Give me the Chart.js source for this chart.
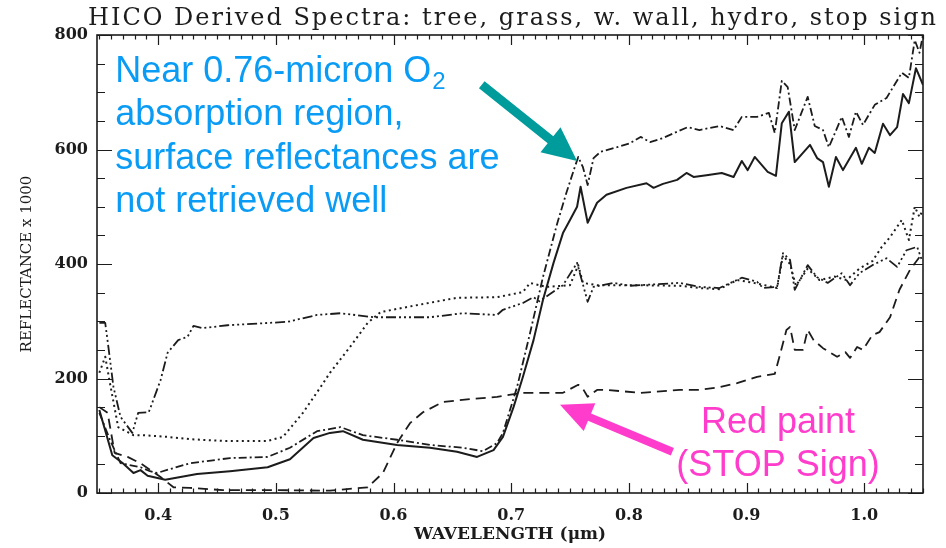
<!DOCTYPE html>
<html><head><meta charset="utf-8">
<script src="https://cdn.jsdelivr.net/npm/chart.js@4/dist/chart.umd.min.js"></script>
<style>html,body{margin:0;padding:0;background:#fff;}#wrap{width:946px;height:548px;}</style>
</head><body><div id="wrap"><canvas id="c" width="946" height="548"></canvas></div>
<script>
// ---- data (wavelength in microns, reflectance x 1000) ----
const treeWl = [0.350,0.361,0.370,0.379,0.385,0.391,0.406,0.433,0.461,0.493,0.512,0.532,0.546,0.557,0.574,0.603,0.631,0.654,0.671,0.685,0.693,0.702,0.710,0.719,0.727,0.736,0.744,0.750,0.756,0.759,0.765,0.773,0.781,0.798,0.815,0.821,0.829,0.841,0.849,0.855,0.866,0.879,0.889,0.896,0.901,0.907,0.918,0.925,0.930,0.936,0.941,0.954,0.960,0.965,0.970,0.976,0.982,0.993,0.998,1.004,1.009,1.016,1.022,1.028,1.033,1.038,1.044,1.050];
const treeRefl = [145,66,52,35,40,30,23,33,38,45,59,96,105,108,93,84,79,72,63,75,98,150,203,267,337,402,454,477,500,535,472,507,521,533,541,533,540,547,559,552,555,559,552,580,564,587,561,554,646,666,578,608,585,578,535,587,564,603,575,603,594,645,625,639,697,681,742,713];

const grassWl = [0.350,0.359,0.368,0.385,0.393,0.399,0.427,0.461,0.493,0.512,0.535,0.555,0.574,0.603,0.631,0.659,0.676,0.688,0.693,0.705,0.716,0.727,0.739,0.747,0.754,0.757,0.761,0.765,0.770,0.776,0.790,0.801,0.810,0.818,0.829,0.841,0.850,0.860,0.877,0.889,0.896,0.909,0.919,0.924,0.930,0.935,0.941,0.952,0.958,0.965,0.970,0.981,0.987,0.993,0.999,1.009,1.019,1.032,1.038,1.043,1.047,1.050];
const grassRefl = [140,93,52,45,38,35,52,61,63,79,108,115,101,93,84,79,73,87,105,185,279,377,470,525,569,587,569,538,585,596,604,611,622,613,620,631,639,634,641,634,657,657,664,629,720,709,634,692,641,634,604,657,622,666,643,678,690,734,725,791,769,800];

const wallWl = [0.350,0.355,0.359,0.366,0.379,0.387,0.408,0.427,0.455,0.493,0.506,0.523,0.538,0.546,0.563,0.578,0.589,0.617,0.654,0.688,0.710,0.716,0.730,0.750,0.757,0.761,0.773,0.801,0.843,0.860,0.877,0.892,0.909,0.926,0.931,0.937,0.942,0.952,0.962,0.975,0.985,0.996,1.007,1.015,1.022,1.032,1.038,1.043,1.047,1.050];
const wallRefl = [210,238,192,115,101,101,98,94,91,91,98,140,185,210,255,297,316,327,341,342,351,367,360,363,398,367,363,363,362,358,356,372,366,358,415,400,362,392,372,378,372,392,405,430,447,477,442,500,482,495];

const hydroWl = [0.350,0.355,0.358,0.362,0.368,0.378,0.383,0.392,0.402,0.408,0.417,0.425,0.430,0.438,0.459,0.493,0.510,0.535,0.555,0.583,0.631,0.659,0.688,0.693,0.710,0.719,0.724,0.744,0.756,0.765,0.770,0.787,0.801,0.843,0.860,0.877,0.896,0.909,0.914,0.926,0.931,0.937,0.941,0.952,0.960,0.969,0.981,0.988,0.996,1.007,1.019,1.028,1.036,1.045,1.049];
const hydroRefl = [297,297,250,185,133,105,140,141,197,245,267,273,292,288,293,297,299,311,314,307,307,314,311,320,332,342,335,363,402,334,360,367,362,367,360,358,376,369,358,360,419,407,355,398,377,367,384,363,384,398,410,395,424,430,407];

const stopWl = [0.350,0.357,0.363,0.374,0.385,0.402,0.413,0.427,0.455,0.500,0.546,0.578,0.591,0.603,0.614,0.625,0.642,0.665,0.688,0.710,0.744,0.757,0.761,0.765,0.773,0.781,0.810,0.843,0.860,0.877,0.892,0.909,0.924,0.928,0.934,0.937,0.941,0.948,0.952,0.957,0.965,0.977,0.984,0.988,0.994,0.999,1.007,1.013,1.022,1.030,1.039,1.047,1.050];
const stopRefl = [150,140,70,63,52,28,10,9,5,5,4,10,35,87,122,141,159,164,168,175,175,189,182,168,180,180,175,180,180,185,192,203,208,238,285,290,250,250,285,267,253,238,246,236,255,250,276,281,307,355,390,412,420];

const xTicks = [0.4,0.5,0.6,0.7,0.8,0.9,1.0];
const yTicks = [0,200,400,600,800];

const titleText = 'HICO Derived Spectra: tree, grass, w. wall, hydro, stop sign';
const xTitle = 'WAVELENGTH (\u03bcm)';
const yTitle = 'REFLECTANCE x 1000';
const blueNote = ['Near 0.76-micron O', 'absorption region,', 'surface reflectances are', 'not retrieved well'];
const blueSub = '2';
const pinkNote = ['Red paint', '(STOP Sign)'];

// annotation anchors in data units
const blueAnchor = {x: 0.3635, y: 718};
const pinkAnchor = {x: 0.9268, y: 105};
const tealArrow = {x1: 0.675, y1: 713, x2: 0.756, y2: 580};
const pinkArrow = {x1: 0.837, y1: 72, x2: 0.7415, y2: 154};

const pts = (wl, r) => wl.map((w, i) => ({x: w, y: r[i]}));
const INK = '#1c1c1c';
const serif = '"DejaVu Serif", serif';

const frameTicks = {
  id: 'frameTicks',
  afterDatasetsDraw(chart) {
    const {ctx, chartArea: {left, right, top, bottom}, scales: {x, y}} = chart;
    ctx.save();
    ctx.strokeStyle = INK;
    ctx.lineWidth = 1.2;
    ctx.beginPath();
    for (let i = 0; i <= 100; i++) {
      const v = Math.round((0.30 + i * 0.01) * 100) / 100;
      if (v < x.min - 1e-9 || v > x.max + 1e-9) continue;
      const px = Math.round(x.getPixelForValue(v)) + 0.5;
      const major = Math.abs(v * 10 - Math.round(v * 10)) < 1e-6;
      const len = major ? 10 : 4.5;
      ctx.moveTo(px, bottom); ctx.lineTo(px, bottom - len);
      ctx.moveTo(px, top); ctx.lineTo(px, top + len);
    }
    for (let v = 0; v <= 800; v += 50) {
      const py = Math.round(y.getPixelForValue(v)) + 0.5;
      const major = v % 200 === 0;
      const len = major ? 15 : 8;
      ctx.moveTo(left, py); ctx.lineTo(left + len, py);
      ctx.moveTo(right, py); ctx.lineTo(right - len, py);
    }
    ctx.stroke();
    ctx.lineWidth = 1.6;
    ctx.strokeRect(left, top, right - left, bottom - top);
    ctx.restore();
  }
};

function drawArrow(ctx, x1, y1, x2, y2, shaft, headLen, headW, color) {
  const dx = x2 - x1, dy = y2 - y1, L = Math.hypot(dx, dy);
  const ux = dx / L, uy = dy / L, nx = -uy, ny = ux;
  const bx = x2 - ux * headLen, by = y2 - uy * headLen;
  ctx.save();
  ctx.fillStyle = color;
  ctx.beginPath();
  ctx.moveTo(x1 + nx * shaft / 2, y1 + ny * shaft / 2);
  ctx.lineTo(bx + nx * shaft / 2, by + ny * shaft / 2);
  ctx.lineTo(bx + nx * headW / 2, by + ny * headW / 2);
  ctx.lineTo(x2, y2);
  ctx.lineTo(bx - nx * headW / 2, by - ny * headW / 2);
  ctx.lineTo(bx - nx * shaft / 2, by - ny * shaft / 2);
  ctx.lineTo(x1 - nx * shaft / 2, y1 - ny * shaft / 2);
  ctx.closePath();
  ctx.fill();
  ctx.restore();
}

const notes = {
  id: 'notes',
  afterDraw(chart) {
    const {ctx, chartArea: {left}, scales: {x, y}} = chart;
    ctx.save();
    // title
    ctx.font = '24px ' + serif;
    ctx.fillStyle = INK;
    ctx.textBaseline = 'alphabetic';
    ctx.textAlign = 'left';
    if ('letterSpacing' in ctx) ctx.letterSpacing = '2px';
    ctx.fillText(titleText, left - 9, 25);
    if ('letterSpacing' in ctx) ctx.letterSpacing = '0px';

    // blue note
    const sans = '"Liberation Sans", Arial, sans-serif';
    ctx.font = '36px ' + sans;
    ctx.fillStyle = '#0a9cf5';
    const bx = x.getPixelForValue(blueAnchor.x), by = y.getPixelForValue(blueAnchor.y);
    blueNote.forEach((t, i) => ctx.fillText(t, bx, by + i * 43.5));
    const w0 = ctx.measureText(blueNote[0]).width;
    ctx.font = '24px ' + sans;
    ctx.fillText(blueSub, bx + w0 + 1, by + 7);

    // pink note
    ctx.font = '36px ' + sans;
    ctx.fillStyle = '#ff3ccb';
    ctx.textAlign = 'center';
    const px = x.getPixelForValue(pinkAnchor.x), py = y.getPixelForValue(pinkAnchor.y);
    pinkNote.forEach((t, i) => ctx.fillText(t, px, py + i * 43));
    ctx.restore();

    drawArrow(ctx, x.getPixelForValue(tealArrow.x1), y.getPixelForValue(tealArrow.y1),
      x.getPixelForValue(tealArrow.x2), y.getPixelForValue(tealArrow.y2), 9, 34, 32, '#009c9c');
    drawArrow(ctx, x.getPixelForValue(pinkArrow.x1), y.getPixelForValue(pinkArrow.y1),
      x.getPixelForValue(pinkArrow.x2), y.getPixelForValue(pinkArrow.y2), 8, 32, 30, '#ff3ccb');
  }
};

const mk = (label, wl, r, dash, w) => ({
  label, data: pts(wl, r), borderColor: INK, borderWidth: w, borderDash: dash,
  pointRadius: 0, tension: 0, fill: false, borderCapStyle: 'butt', borderJoinStyle: 'round'
});

new Chart(document.getElementById('c'), {
  type: 'line',
  data: {
    datasets: [
      mk('tree', treeWl, treeRefl, [], 2),
      mk('grass', grassWl, grassRefl, [8, 3, 2, 3], 1.8),
      mk('w. wall', wallWl, wallRefl, [2, 3.5], 2),
      mk('hydro', hydroWl, hydroRefl, [10, 3, 2, 3, 2, 3, 2, 3], 1.8),
      mk('stop sign', stopWl, stopRefl, [10, 6], 1.8)
    ]
  },
  options: {
    responsive: false,
    animation: false,
    devicePixelRatio: 1,
    layout: {padding: {top: 35, right: 23, left: 0, bottom: 0}},
    plugins: {legend: {display: false}, title: {display: false}, tooltip: {enabled: false}},
    scales: {
      x: {
        type: 'linear', min: 0.348, max: 1.05,
        afterBuildTicks: s => { s.ticks = xTicks.map(v => ({value: v})); },
        afterFit: s => { s.height = 55; },
        grid: {display: false, drawTicks: false},
        border: {display: false},
        ticks: {callback: v => Number(v).toFixed(1), color: INK, padding: 13, maxRotation: 0, autoSkip: false,
          font: {family: serif, size: 16, weight: 'bold'}},
        title: {display: true, text: xTitle, color: INK, font: {family: serif, size: 17, weight: 'bold'},
          padding: {top: 0, bottom: 3}}
      },
      y: {
        min: 0, max: 800,
        afterBuildTicks: s => { s.ticks = yTicks.map(v => ({value: v})); },
        afterFit: s => { s.width = 97; },
        grid: {display: false, drawTicks: false},
        border: {display: false},
        ticks: {color: INK, padding: 9, font: {family: serif, size: 16, weight: 'bold'}},
        title: {display: true, text: yTitle, color: INK, font: {family: serif, size: 15},
          padding: {top: 18, bottom: 0}}
      }
    }
  },
  plugins: [frameTicks, notes]
});
</script></body></html>
